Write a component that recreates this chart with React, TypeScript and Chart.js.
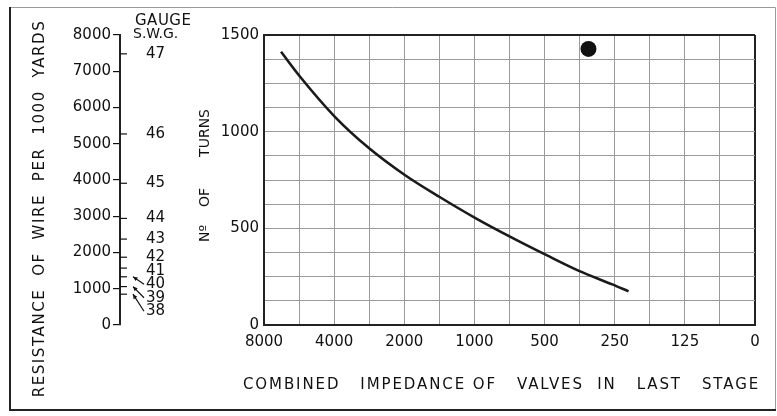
import React, { useEffect, useRef } from 'react';
import { Chart, registerables } from 'chart.js';

Chart.register(...registerables);

// ---- data ----
const impedanceTickLabels = ['8000', '4000', '2000', '1000', '500', '250', '125', '0'];
const impedanceMax = 8000;
const impedanceAxisEnd = 62.5; // the "0" end mark of the halving scale
const turnsTickLabels = [0, 500, 1000, 1500];

const curveImpedance = [6760, 5600, 3970, 2830, 1990, 1410, 990, 714, 490, 356, 256, 218];
const curveTurns = [1413, 1284, 1077, 914, 776, 662, 553, 461, 361, 280, 210, 174];

const markImpedance = [324];
const markTurns = [1428];

const gaugeSWG = [47, 46, 45, 44, 43, 42, 41, 40, 39, 38];
const gaugeResistance = [7480, 5270, 3910, 2940, 2370, 1870, 1570, 1330, 1060, 850];

const xTitle = 'COMBINED   IMPEDANCE OF   VALVES  IN   LAST   STAGE';
const turnsTitle = 'N\u00BA    OF       TURNS';
const resTitle = 'RESISTANCE  OF  WIRE  PER  1000  YARDS';
const gaugeHeader = ['GAUGE', 'S.W.G.'];

// ---- styles ----
const INK = '#111111';
const GRID = '#9a9a9a';
const FAMILY = '"DejaVu Sans", sans-serif';

function drawSpaced(ctx: CanvasRenderingContext2D, text: string, x: number, y: number, rot: number, size: number, spacing: number, align: CanvasTextAlign) {
  ctx.save();
  ctx.translate(x, y);
  ctx.rotate(rot);
  ctx.font = `${size}px ${FAMILY}`;
  (ctx as any).letterSpacing = `${spacing}px`;
  ctx.textAlign = align;
  ctx.textBaseline = 'middle';
  ctx.fillStyle = INK;
  ctx.fillText(text, 0, 0);
  ctx.restore();
}

const nomogramPlugin = {
  id: 'nomogram',
  afterDraw(chart: any) {
    const ctx: CanvasRenderingContext2D = chart.ctx;
    const area = chart.chartArea;
    const yRes = chart.scales.yRes;

    ctx.save();
    // outer frame
    ctx.strokeStyle = '#9a9a9a';
    ctx.lineWidth = 1;
    ctx.beginPath();
    ctx.moveTo(10, 7.5); ctx.lineTo(775.5, 7.5); ctx.lineTo(775.5, 410);
    ctx.stroke();
    ctx.strokeStyle = '#222';
    ctx.lineWidth = 2;
    ctx.beginPath();
    ctx.moveTo(10, 7); ctx.lineTo(10, 410); ctx.lineTo(776, 410);
    ctx.stroke();

    // gauge scale on the right of the resistance axis
    const axisX = yRes.right;
    const tickPix = gaugeResistance.map((r) => yRes.getPixelForValue(r));
    const labelPix: number[] = [];
    tickPix.forEach((p, i) => labelPix.push(i === 0 ? p : Math.max(p, labelPix[i - 1] + 13.5)));
    ctx.strokeStyle = INK;
    ctx.fillStyle = INK;
    ctx.lineWidth = 1.2;
    ctx.font = `15px ${FAMILY}`;
    ctx.textAlign = 'left';
    ctx.textBaseline = 'middle';
    gaugeSWG.forEach((g, i) => {
      const ty = tickPix[i];
      const ly = labelPix[i];
      ctx.beginPath();
      ctx.moveTo(axisX, ty); ctx.lineTo(axisX + 7, ty);
      ctx.stroke();
      ctx.fillText(String(g), axisX + 26, ly);
      if (ly - ty > 4) {
        const x0 = axisX + 24, y0 = ly, x1 = axisX + 13, y1 = ty;
        ctx.beginPath();
        ctx.moveTo(x0, y0); ctx.lineTo(x1, y1);
        ctx.stroke();
        const a = Math.atan2(y1 - y0, x1 - x0);
        ctx.beginPath();
        ctx.moveTo(x1, y1);
        ctx.lineTo(x1 - 5 * Math.cos(a - 0.45), y1 - 5 * Math.sin(a - 0.45));
        ctx.lineTo(x1 - 5 * Math.cos(a + 0.45), y1 - 5 * Math.sin(a + 0.45));
        ctx.closePath();
        ctx.fill();
      }
    });
    drawSpaced(ctx, gaugeHeader[0], axisX + 15, 21, 0, 15, 0.5, 'left');
    drawSpaced(ctx, gaugeHeader[1], axisX + 13, 34, 0, 14, 0, 'left');

    // titles
    drawSpaced(ctx, xTitle, (area.left + area.right) / 2 - 8, area.bottom + 60, 0, 15, 1.9, 'center');
    drawSpaced(ctx, turnsTitle, area.left - 59, (area.top + area.bottom) / 2 - 4.5, -Math.PI / 2, 14, 0, 'center');
    drawSpaced(ctx, resTitle, 40, 208.5, -Math.PI / 2, 15, 1.6, 'center');
    ctx.restore();
  },
};

export default function App() {
  const ref = useRef<HTMLCanvasElement>(null);

  useEffect(() => {
    const tickFont = { family: FAMILY, size: 15 };
    const chart = new Chart(ref.current as HTMLCanvasElement, {
      type: 'line',
      data: {
        datasets: [
          {
            type: 'line',
            data: curveImpedance.map((z, i) => ({ x: z, y: curveTurns[i] })),
            borderColor: '#1a1a1a',
            borderWidth: 2.6,
            cubicInterpolationMode: 'monotone',
            pointRadius: 0,
            fill: false,
            xAxisID: 'x',
            yAxisID: 'y',
          },
          {
            type: 'scatter',
            data: markImpedance.map((z, i) => ({ x: z, y: markTurns[i] })),
            pointRadius: 8,
            backgroundColor: '#111',
            borderWidth: 0,
            xAxisID: 'x',
            yAxisID: 'y',
          },
        ],
      } as any,
      options: {
        animation: false,
        responsive: false,
        maintainAspectRatio: false,
        devicePixelRatio: 1,
        layout: { padding: { left: 0, top: 35, right: 22, bottom: 0 } },
        plugins: { legend: { display: false }, tooltip: { enabled: false } },
        scales: {
          x: {
            type: 'logarithmic',
            reverse: true,
            min: impedanceAxisEnd,
            max: impedanceMax,
            afterBuildTicks: (s: any) => {
              s.ticks = Array.from({ length: 15 }, (_, k) => ({ value: impedanceMax / Math.pow(2, k / 2) }));
            },
            afterFit: (s: any) => { s.height = 91; },
            ticks: {
              autoSkip: false,
              maxRotation: 0,
              padding: 8,
              color: INK,
              font: tickFont,
              callback: (_v: any, i: number) => (i % 2 === 0 ? impedanceTickLabels[i / 2] : ''),
            },
            grid: {
              drawTicks: false,
              color: (c: any) => (c.index === 14 ? '#222' : GRID),
              lineWidth: (c: any) => (c.index === 14 ? 2 : 1),
            },
            border: { color: '#222', width: 2 },
          },
          y: {
            type: 'linear',
            position: 'left',
            weight: 1,
            min: 0,
            max: 1500,
            afterFit: (s: any) => { s.width = 144; },
            ticks: {
              stepSize: 125,
              autoSkip: false,
              padding: 5,
              color: INK,
              font: tickFont,
              callback: (v: any) => (turnsTickLabels.includes(Number(v)) ? String(v) : ''),
            },
            grid: {
              drawTicks: false,
              color: (c: any) => (c.tick && c.tick.value === 1500 ? '#222' : GRID),
              lineWidth: (c: any) => (c.tick && c.tick.value === 1500 ? 2 : 1),
            },
            border: { color: '#222', width: 2 },
          },
          yRes: {
            type: 'linear',
            position: 'left',
            weight: 2,
            min: 0,
            max: 8000,
            afterFit: (s: any) => { s.width = 120; },
            ticks: { stepSize: 1000, padding: 2, color: INK, font: tickFont, callback: (v: any) => String(v) },
            grid: { drawOnChartArea: false, color: INK, lineWidth: 1.2, tickLength: 7 },
            border: { color: '#222', width: 2 },
          },
        },
      } as any,
      plugins: [nomogramPlugin],
    });
    return () => chart.destroy();
  }, []);

  return (
    <div style={{ position: 'fixed', left: 0, top: 0, width: 777, height: 416, background: '#fff' }}>
      <canvas ref={ref} width={777} height={416} style={{ display: 'block' }} />
    </div>
  );
}
